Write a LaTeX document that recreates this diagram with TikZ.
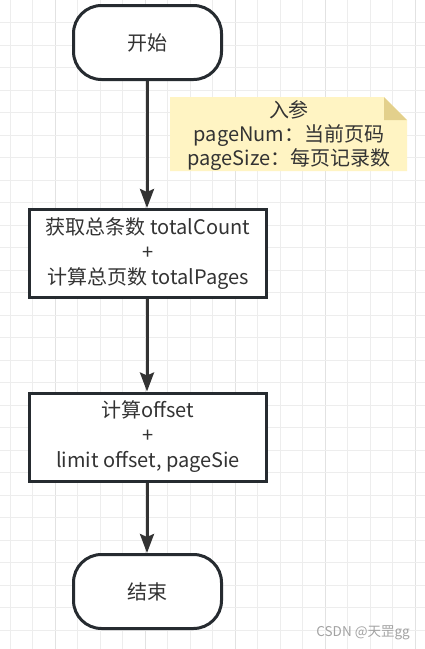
\documentclass[tikz,border=0pt]{standalone}
\usepackage{fontspec}
\setmainfont{Noto Sans CJK SC}
\usetikzlibrary{arrows.meta}
\definecolor{gridminor}{HTML}{EDEDED}
\definecolor{gridmajor}{HTML}{E2E2E2}
\definecolor{edgecol}{HTML}{262B30}
\definecolor{txtcol}{HTML}{333333}
\definecolor{notefill}{HTML}{FFF4C3}
\definecolor{notefold}{HTML}{E3D08C}
\definecolor{markcol}{HTML}{A3A3A3}
\tikzset{
  terminal/.style={draw=edgecol, line width=3pt, fill=white, rounded corners=28pt,
    minimum width=148pt, minimum height=74pt, inner sep=0pt, text=txtcol,
    font=\fontsize{20}{25}\selectfont},
  procbox/.style={draw=edgecol, line width=3pt, fill=white,
    minimum width=237pt, minimum height=88pt, inner sep=0pt, text=txtcol,
    align=center, font=\fontsize{20}{25}\selectfont},
  flow/.style={draw=txtcol, line width=3pt, -{Stealth[length=19pt,width=14pt,inset=3pt]}},
  notetext/.style={text=txtcol, align=center, inner sep=0pt, font=\fontsize{20}{24}\selectfont}
}
\begin{document}
\begin{tikzpicture}[x=1pt,y=-1pt]
\useasboundingbox (0,0) rectangle (425,649);
\fill[white] (0,0) rectangle (425,649);
% grid
\foreach \k in {0,...,18}{
  \pgfmathsetmacro{\xx}{10+22.5*\k}
  \pgfmathtruncatemacro{\mm}{mod(\k,4)}
  \ifnum\mm=2
    \draw[gridmajor, line width=1pt] (\xx,0) -- (\xx,649);
  \else
    \draw[gridminor, line width=1pt] (\xx,0) -- (\xx,649);
  \fi
}
\foreach \k in {1,...,28}{
  \pgfmathsetmacro{\yy}{22.5*\k}
  \draw[gridminor, line width=1pt] (0,\yy) -- (425,\yy);
}
% note
\fill[notefill] (170,97) -- (384,97) -- (407,120) -- (407,171) -- (170,171) -- cycle;
\fill[notefold] (384,97) -- (407,120) -- (384,120) -- cycle;
\node[notetext] (note) at (289,136) {入参\\pageNum：当前页码\\pageSize：每页记录数};
% nodes
\node[terminal] (start) at (147.5,42.5) {开始};
\node[procbox] (count) at (148,253.5) {获取总条数 totalCount\\+\\计算总页数 totalPages};
\node[procbox] (offset) at (148,437) {计算offset\\+\\limit offset, pageSie};
\node[terminal] (end) at (147.5,591.5) {结束};
% connectors
\draw[flow] (start.south -| 147,0) -- (count.north -| 147,0);
\draw[flow] (count.south -| 147,0) -- (offset.north -| 147,0);
\draw[flow] (offset.south -| 147,0) -- (end.north -| 147,0);
% watermark
\node[text=markcol, anchor=east, inner sep=0pt, font=\fontsize{13.5}{15}\selectfont] (mark) at (410,633) {CSDN @天罡gg};
\end{tikzpicture}
\end{document}
